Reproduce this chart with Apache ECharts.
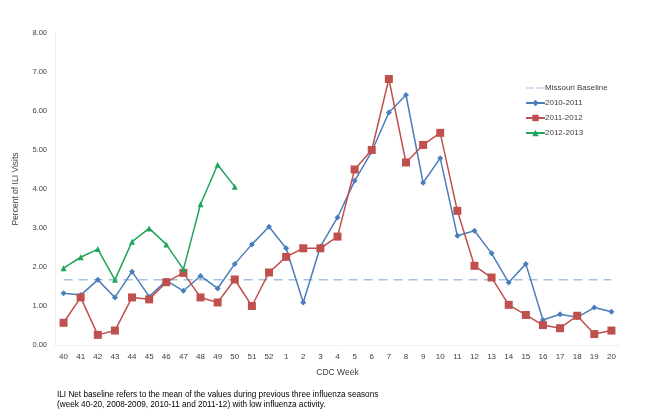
<!DOCTYPE html>
<html>
<head>
<meta charset="utf-8">
<script src="https://cdn.jsdelivr.net/npm/echarts@6/dist/echarts.min.js"></script>
<style>
html,body{margin:0;padding:0;background:#fff;}
#chart{width:660px;height:418px;}
</style>
</head>
<body>
<div id="chart"></div>
<script>
const weeks = ['40','41','42','43','44','45','46','47','48','49','50','51','52','1','2','3','4','5','6','7','8','9','10','11','12','13','14','15','16','17','18','19','20'];
const baseline = [1.67,1.67,1.67,1.67,1.67,1.67,1.67,1.67,1.67,1.67,1.67,1.67,1.67,1.67,1.67,1.67,1.67,1.67,1.67,1.67,1.67,1.67,1.67,1.67,1.67,1.67,1.67,1.67,1.67,1.67,1.67,1.67,1.67];
const s2010 = [1.33,1.28,1.67,1.22,1.88,1.24,1.65,1.39,1.77,1.45,2.08,2.58,3.03,2.48,1.09,2.52,3.27,4.21,4.96,5.96,6.41,4.16,4.79,2.80,2.93,2.35,1.60,2.08,0.64,0.79,0.71,0.96,0.85];
const s2011 = [0.57,1.22,0.26,0.37,1.22,1.17,1.61,1.85,1.22,1.09,1.68,1.00,1.86,2.26,2.48,2.48,2.78,4.50,5.00,6.82,4.68,5.13,5.44,3.44,2.03,1.73,1.03,0.77,0.51,0.43,0.75,0.28,0.37];
const s2012 = [1.97,2.25,2.46,1.67,2.65,2.99,2.58,1.94,3.61,4.62,4.06];
const yTicks = ['0.00','1.00','2.00','3.00','4.00','5.00','6.00','7.00','8.00'];
const footnote = 'ILI Net baseline refers to the mean of the values during previous three influenza seasons\n(week 40-20, 2008-2009, 2010-11 and 2011-12) with low influenza activity.';

const font = 'Liberation Sans, Arial, sans-serif';
const chart = echarts.init(document.getElementById('chart'));
chart.setOption({
  backgroundColor: '#fff',
  animation: false,
  textStyle: {fontFamily: font},
  grid: {left: 55, right: 40, top: 33, bottom: 73},
  title: {
    text: footnote,
    left: 52, top: 385,
    textStyle: {fontSize: 8.2, fontWeight: 'normal', color: '#000', lineHeight: 10, fontFamily: font}
  },
  legend: {
    orient: 'vertical',
    left: 520, top: 79,
    itemWidth: 19, itemHeight: 8, itemGap: 7,
    textStyle: {fontSize: 8, color: '#404040', padding: [0,0,0,-5]},
    data: [
      {name: 'Missouri Baseline', icon: 'path://M0,4 L8,4 L8,5 L0,5 Z M11,4 L20,4 L20,5 L11,5 Z', itemStyle:{color:'#a6c0e2'}},
      {name: '2010-2011'},
      {name: '2011-2012'},
      {name: '2012-2013'}
    ]
  },
  xAxis: {
    type: 'category',
    data: weeks,
    boundaryGap: true,
    name: 'CDC Week',
    nameLocation: 'middle',
    nameGap: 23,
    nameTextStyle: {fontSize: 8.5, color: '#404040'},
    axisLine: {show: true, lineStyle: {color: '#f0f0f0'}},
    axisTick: {show: false},
    axisLabel: {fontSize: 8, color: '#404040', margin: 8, interval: 0}
  },
  yAxis: {
    type: 'value',
    min: 0, max: 8, interval: 1,
    name: 'Percent of ILI Visits',
    nameLocation: 'middle',
    nameGap: 35,
    nameTextStyle: {fontSize: 8.5, color: '#404040'},
    axisLine: {show: true, lineStyle: {color: '#f0f0f0'}},
    axisTick: {show: false},
    splitLine: {show: false},
    axisLabel: {fontSize: 7.5, color: '#404040', margin: 8, formatter: (v) => yTicks[Math.round(v)]}
  },
  series: [
    {
      name: 'Missouri Baseline', type: 'line', data: baseline,
      symbol: 'none',
      lineStyle: {color: '#a6c0e2', width: 1.5, type: [9, 6]},
      itemStyle: {color: '#a6c0e2'},
      z: 1
    },
    {
      name: '2010-2011', type: 'line', data: s2010,
      symbol: 'diamond', symbolSize: 6,
      lineStyle: {color: '#4a7ebb', width: 1.5},
      itemStyle: {color: '#4a7ebb'},
      z: 2
    },
    {
      name: '2011-2012', type: 'line', data: s2011,
      symbol: 'rect', symbolSize: 8,
      lineStyle: {color: '#c0504d', width: 1.5},
      itemStyle: {color: '#c0504d'},
      z: 3
    },
    {
      name: '2012-2013', type: 'line', data: s2012,
      symbol: 'triangle', symbolSize: 6,
      lineStyle: {color: '#1fa55b', width: 1.5},
      itemStyle: {color: '#1fa55b'},
      z: 4
    }
  ]
});
</script>
</body>
</html>
